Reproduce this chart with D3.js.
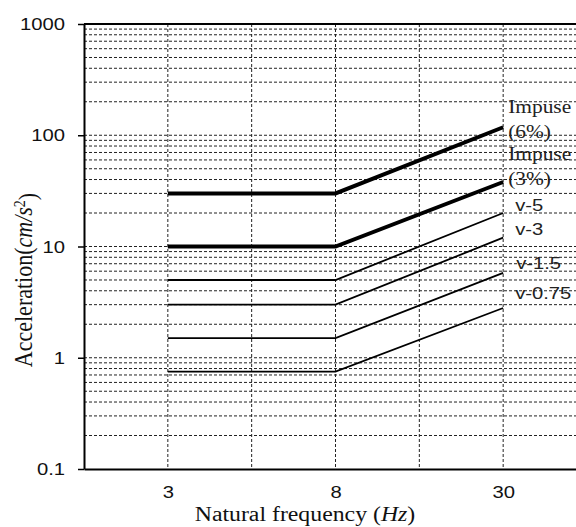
<!DOCTYPE html>
<html>
<head>
<meta charset="utf-8">
<script src="https://cdn.jsdelivr.net/npm/d3@7"></script>
<style>
  body { margin: 0; background: #fff; }
  svg { display: block; }
</style>
</head>
<body>
<div id="chart"></div>
<script>
// ---- data ----
var freqs = [3, 8, 30];                 // Hz, the three labelled columns
var freqSlots = [1, 3, 5];              // column index of each freq on the x axis
var seriesNames = ["Impuse (6%)", "Impuse (3%)", "v-5", "v-3", "v-1.5", "v-0.75"];
var accelAt3 = [30, 10, 5, 3, 1.5, 0.75];
var accelAt8 = [30, 10, 5, 3, 1.5, 0.75];
var accelAt30 = [118, 38, 20, 12, 5.8, 2.8];
var yTickValues = [0.1, 1, 10, 100, 1000];

// label layout (px offsets from the line end), kept apart from the data
var labelDy = [[-14, 11], [-22, 3], [-2], [-3], [-4], [-9]];
var labelDx = [5, 5, 12, 12, 13, 12];

var width = 576, height = 527;
var stretch = 1.19;   // the original is a bit wider than tall, text included

var x = d3.scaleLinear().domain([0, 6]).range([84, 587]);
var y = d3.scaleLog().domain([0.1, 1000]).range([469, 24]);

var svg = d3.select("#chart")
  .append("svg")
    .attr("width", width)
    .attr("height", height);

svg.append("rect")
   .attr("width", width)
   .attr("height", height)
   .attr("fill", "#fff");

// horizontal grid: every 1..9 of each decade
var yGrid = y.ticks().filter(function(d) { return d > 0.1 && d < 1000; });
svg.append("g")
  .selectAll("line")
  .data(yGrid)
  .enter()
  .append("line")
    .attr("x1", x(0))
    .attr("x2", x(6))
    .attr("y1", function(d) { return y(d); })
    .attr("y2", function(d) { return y(d); })
    .attr("stroke", "#222")
    .attr("stroke-width", 1)
    .attr("stroke-dasharray", "3,2");

// vertical grid at every half column
var xGrid = x.ticks(6).filter(function(d) { return d > 0 && d < 6; });
svg.append("g")
  .selectAll("line")
  .data(xGrid)
  .enter()
  .append("line")
    .attr("x1", function(d) { return x(d); })
    .attr("x2", function(d) { return x(d); })
    .attr("y1", y(1000))
    .attr("y2", y(0.1))
    .attr("stroke", "#222")
    .attr("stroke-width", 1)
    .attr("stroke-dasharray", "3,2");

// top frame line
svg.append("line")
   .attr("x1", x(0)).attr("x2", x(6))
   .attr("y1", y(1000)).attr("y2", y(1000))
   .attr("stroke", "#000")
   .attr("stroke-width", 2);

// Y axis
var yAxis = svg.append("g")
  .attr("transform", "translate(" + x(0) + ",0)")
  .call(d3.axisLeft(y).tickValues(yTickValues).tickSize(6).tickSizeOuter(0)
          .tickFormat(d3.format("~g")));
yAxis.select(".domain").attr("stroke", "#000").attr("stroke-width", 2);
yAxis.selectAll(".tick line").attr("stroke", "#000").attr("stroke-width", 1.5);
yAxis.selectAll(".tick text")
  .attr("x", 0)
  .attr("dy", "0.33em")
  .attr("transform", "translate(-19,0) scale(" + stretch + ",1)")
  .style("font-family", "'Liberation Sans', Arial, sans-serif")
  .style("font-size", "17px")
  .attr("fill", "#111");

// X axis
var xAxis = svg.append("g")
  .attr("transform", "translate(0," + y(0.1) + ")")
  .call(d3.axisBottom(x).tickValues(freqSlots).tickSize(0).tickSizeOuter(0)
          .tickFormat(function(d, i) { return freqs[i]; }));
xAxis.select(".domain").attr("stroke", "#000").attr("stroke-width", 2);
xAxis.selectAll(".tick text")
  .attr("y", 0)
  .attr("dy", 0)
  .attr("transform", "translate(0,29) scale(" + stretch + ",1)")
  .style("font-family", "'Liberation Sans', Arial, sans-serif")
  .style("font-size", "17px")
  .attr("fill", "#111");

// criteria lines
var line = d3.line()
  .x(function(d) { return x(d.slot); })
  .y(function(d) { return y(d.v); });

var seriesData = seriesNames.map(function(name, i) {
  return {
    name: name,
    pts: [
      {slot: freqSlots[0], v: accelAt3[i]},
      {slot: freqSlots[1], v: accelAt8[i]},
      {slot: freqSlots[2], v: accelAt30[i]}
    ]
  };
});

svg.append("g")
  .selectAll("path")
  .data(seriesData)
  .enter()
  .append("path")
    .attr("d", function(d) { return line(d.pts); })
    .attr("fill", "none")
    .attr("stroke", "#000")
    .attr("stroke-width", function(d, i) { return i < 2 ? 4 : 1.8; })
    .attr("stroke-linejoin", "miter");

// series labels at the right end
seriesData.forEach(function(d, i) {
  var end = d.pts[2];
  var isImpulse = i < 2;
  var parts = isImpulse ? ["Impuse", d.name.replace("Impuse ", "")] : [d.name];
  parts.forEach(function(txt, k) {
    svg.append("text")
      .attr("transform", "translate(" + (x(end.slot) + labelDx[i]) + "," + (y(end.v) + labelDy[i][k]) + ") scale(" + stretch + ",1)")
      .style("font-family", isImpulse ? "'Liberation Serif', 'Times New Roman', serif" : "'Liberation Sans', Arial, sans-serif")
      .style("font-size", isImpulse ? "18px" : "17px")
      .attr("fill", "#222")
      .text(txt);
  });
});

// axis titles
var xTitle = svg.append("text")
  .attr("transform", "translate(305,521) scale(" + stretch + ",1)")
  .attr("text-anchor", "middle")
  .style("font-family", "'Liberation Serif', 'Times New Roman', serif")
  .style("font-size", "20px")
  .attr("fill", "#111");
xTitle.append("tspan").text("Natural frequency (");
xTitle.append("tspan").style("font-style", "italic").text("Hz");
xTitle.append("tspan").text(")");

var yTitle = svg.append("text")
  .attr("transform", "translate(32,280) scale(" + stretch + ",1) rotate(-90)")
  .attr("text-anchor", "middle")
  .style("font-family", "'Liberation Serif', 'Times New Roman', serif")
  .style("font-size", "22px")
  .attr("fill", "#111");
yTitle.append("tspan").text("Acceleration(");
yTitle.append("tspan").style("font-style", "italic").text("cm/s");
yTitle.append("tspan").attr("dy", "-0.45em").style("font-size", "14px").text("2");
yTitle.append("tspan").attr("dy", "0.45em").text(")");
</script>
</body>
</html>
